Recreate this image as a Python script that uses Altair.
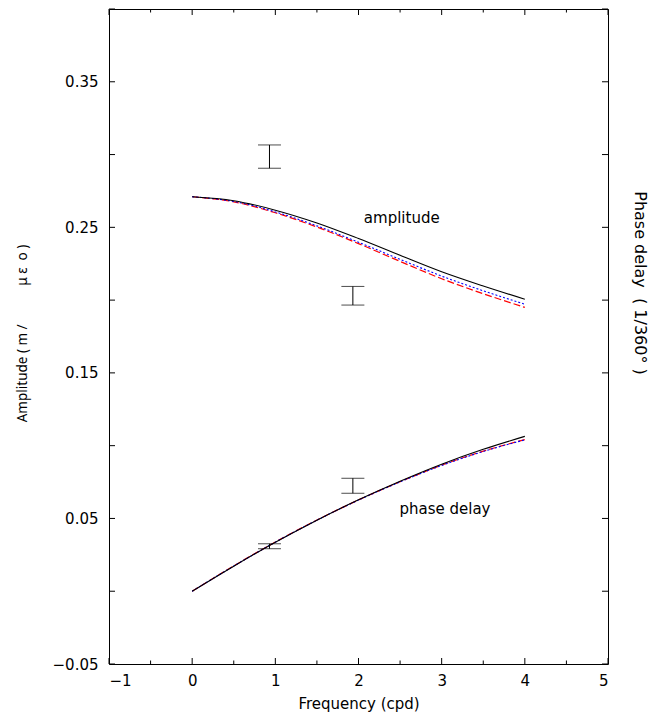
import altair as alt
import pandas as pd

# ---- data ----
freq = [0, 0.5, 1, 1.5, 2, 2.5, 3, 3.5, 4]
amp_black = [0.271, 0.2683, 0.2618, 0.2530, 0.2423, 0.2308, 0.2195, 0.2097, 0.2006]
amp_blue = [0.271, 0.2678, 0.2606, 0.2510, 0.2398, 0.2280, 0.2165, 0.2064, 0.1972]
amp_red = [0.271, 0.2675, 0.2600, 0.2502, 0.2388, 0.2266, 0.2147, 0.2044, 0.1950]
ph_black = [0, 0.0172, 0.0336, 0.0488, 0.0628, 0.0756, 0.0873, 0.0975, 0.1064]
ph_blue = [0, 0.0173, 0.0337, 0.0488, 0.0626, 0.0751, 0.0864, 0.0960, 0.1040]
ph_red = [0, 0.0174, 0.0338, 0.0489, 0.0627, 0.0752, 0.0866, 0.0962, 0.1042]

eb_x = [0.9295, 1.9323, 1.9323, 0.9295]
eb_lo = [0.2906, 0.1966, 0.0673, 0.0292]
eb_hi = [0.3066, 0.2094, 0.0776, 0.0326]

label_text = ["amplitude", "phase delay"]
label_x = [2.52, 3.04]
label_y = [0.2567, 0.0566]

x_major = [-1, 0, 1, 2, 3, 4, 5]
x_minor = [-0.5, 0.5, 1.5, 2.5, 3.5, 4.5]
y_labels = [-0.05, 0.05, 0.15, 0.25, 0.35]
y_ticks = [-0.05, 0.0, 0.05, 0.1, 0.15, 0.2, 0.25, 0.3, 0.35, 0.4]

# ---- layout ----
W, H = 499, 655
FONT = "DejaVu Sans"

xscale = alt.Scale(domain=[-1, 5], nice=False, zero=False)
yscale = alt.Scale(domain=[-0.05, 0.4], nice=False, zero=False)

xaxis = alt.Axis(values=x_major, format="d", tickSize=0, domain=False, grid=False,
                 labelFont=FONT, labelFontSize=15, labelColor="black", labelPadding=9,
                 title="Frequency (cpd)", titleFont=FONT, titleFontSize=15,
                 titleFontWeight="normal", titleColor="black", titleY=39,
                 titleBaseline="middle")
left_title = "Amplitude ( m /" + "\u00a0" * 11 + "\u03bc\u00a0\u03b5\u00a0\u00a0o\u00a0)"
yaxis = alt.Axis(values=y_labels, format=".2f", tickSize=0, domain=False, grid=False,
                 labelFont=FONT, labelFontSize=15, labelColor="black", labelPadding=11,
                 title=left_title, titleFont="Noto Sans", titleFontSize=13.5,
                 titleFontWeight="normal", titleColor="black", titleX=-87, titleY=324,
                 titleAngle=270, titleAlign="center", titleBaseline="middle")

X = alt.X("x:Q", scale=xscale, axis=xaxis)
Y = alt.Y("y:Q", scale=yscale, axis=yaxis)


def series(vals_a, vals_p):
    rows = []
    for f, a in zip(freq, vals_a):
        rows.append({"x": f, "y": a, "q": "amp"})
    for f, p in zip(freq, vals_p):
        rows.append({"x": f, "y": p, "q": "phase"})
    return pd.DataFrame(rows)


red = alt.Chart(series(amp_red, ph_red)).mark_line(
    color="#ff0000", strokeDash=[7, 3], strokeWidth=1.2, interpolate="monotone"
).encode(x=X, y=Y, detail="q:N")
blue = alt.Chart(series(amp_blue, ph_blue)).mark_line(
    color="#0000ff", strokeDash=[2, 2], strokeWidth=1.1, interpolate="monotone"
).encode(x=X, y=Y, detail="q:N")
black = alt.Chart(series(amp_black, ph_black)).mark_line(
    color="black", strokeWidth=1.1, interpolate="monotone"
).encode(x=X, y=Y, detail="q:N")

eb_df = pd.DataFrame({"x": eb_x, "y": eb_lo, "y2": eb_hi})
eb_rule = alt.Chart(eb_df).mark_rule(color="black", strokeWidth=1).encode(
    x=X, y=Y, y2="y2:Q")
caps_df = pd.DataFrame({"x": eb_x + eb_x, "y": eb_lo + eb_hi})
eb_caps = alt.Chart(caps_df).mark_tick(
    orient="horizontal", size=23, thickness=1, color="black"
).encode(x=X, y=Y)

lab_df = pd.DataFrame({"x": label_x, "y": label_y, "t": label_text})
labels = alt.Chart(lab_df).mark_text(
    font=FONT, fontSize=15, color="black", align="center", baseline="middle"
).encode(x=X, y=Y, text="t:N")

# inward frame ticks
xmaj_df = pd.DataFrame({"x": x_major})
xmin_df = pd.DataFrame({"x": x_minor})
yt_df = pd.DataFrame({"y": y_ticks})
tick_layers = [
    alt.Chart(xmaj_df).mark_rule(color="black").encode(x=X, y=alt.value(H), y2=alt.value(H - 6)),
    alt.Chart(xmaj_df).mark_rule(color="black").encode(x=X, y=alt.value(0), y2=alt.value(6)),
    alt.Chart(xmin_df).mark_rule(color="black").encode(x=X, y=alt.value(H), y2=alt.value(H - 3.5)),
    alt.Chart(xmin_df).mark_rule(color="black").encode(x=X, y=alt.value(0), y2=alt.value(3.5)),
    alt.Chart(yt_df).mark_rule(color="black").encode(y=Y, x=alt.value(0), x2=alt.value(6)),
    alt.Chart(yt_df).mark_rule(color="black").encode(y=Y, x=alt.value(W), x2=alt.value(W - 6)),
]

right_title = alt.Chart(pd.DataFrame({"t": ["Phase delay\u00a0\u00a0(\u00a01/360\u00b0\u00a0)"]})).mark_text(
    font=FONT, fontSize=16, color="black", angle=90, align="center", baseline="middle"
).encode(x=alt.value(W + 32), y=alt.value(274), text="t:N")

chart = alt.layer(
    red, blue, black, eb_rule, eb_caps, labels, *tick_layers, right_title
).properties(
    width=W, height=H,
    padding={"left": 109, "top": 9, "right": 62, "bottom": 49},
    autosize=alt.AutoSizeParams(type="none"),
    background="white",
).configure_view(stroke="black", strokeWidth=1)

chart.save("out.html", embed_options={"renderer": "svg", "actions": False})
